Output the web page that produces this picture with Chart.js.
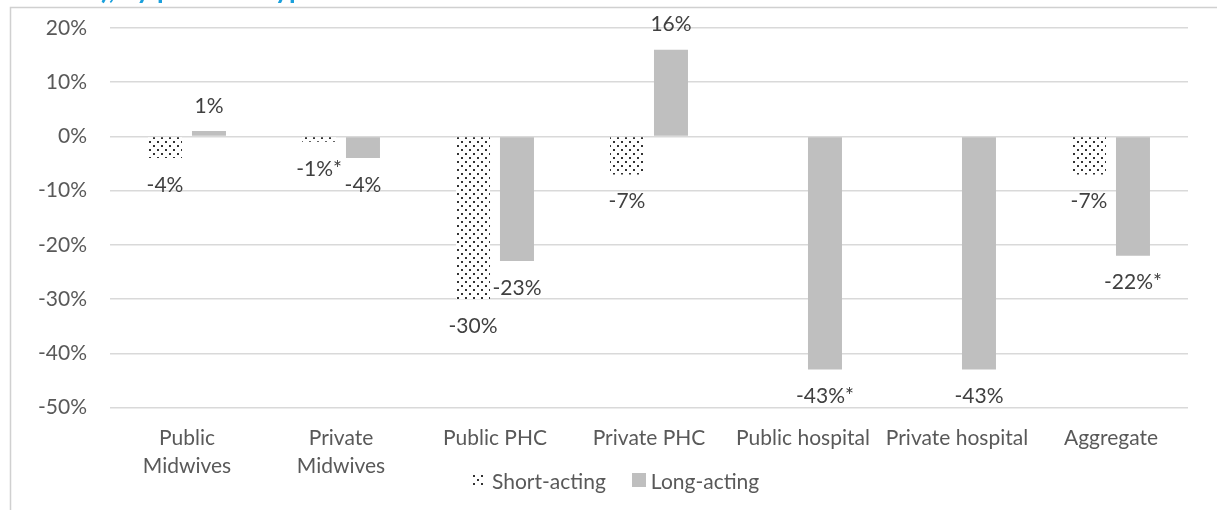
<!DOCTYPE html>
<html>
<head>
<meta charset="utf-8">
<script src="https://cdn.jsdelivr.net/npm/chart.js@4.4.1/dist/chart.umd.min.js"></script>
<style>
  html, body { margin: 0; padding: 0; background: #fff; }
  #wrap { position: relative; width: 1217px; height: 510px; }
  #legenda { position: absolute; left: 472px; top: 467px; height: 26px; display: flex; align-items: center;
             font-family: Lato, sans-serif; font-size: 21px; color: #595959; white-space: nowrap; }
  #legenda .item { display: flex; align-items: center; }
  #legenda canvas, #legenda .caixa { width: 13px; height: 13px; margin-right: 7px; }
  #legenda .caixa { background: #bfbfbf; width: 14px; height: 14px; margin-right: 5px; }
</style>
</head>
<body>
<div id="wrap">
  <canvas id="grafico" width="1217" height="510"></canvas>
  <div id="legenda"></div>
</div>
<script>
// dados
const categorias = [["Public", "Midwives"], ["Private", "Midwives"], "Public PHC", "Private PHC", "Public hospital", "Private hospital", "Aggregate"];
const series = ["Short-acting", "Long-acting"];
const shortActing = [-4, -1, -30, -7, null, null, -7];
const longActing = [1, -4, -23, 16, -43, -43, -22];
const rotulosShort = ["-4%", "-1%*", "-30%", "-7%", "", "", "-7%"];
const rotulosLong = ["1%", "-4%", "-23%", "16%", "-43%*", "-43%", "-22%*"];
const yMin = -50, yMax = 20, yPasso = 10;
const tituloCortado = "), by provider type";

// padrão pontilhado (tipo "20%" do Excel)
function criarPadrao(ctxDestino) {
    const c = document.createElement('canvas');
    c.width = 8; c.height = 8;
    const g = c.getContext('2d');
    g.fillStyle = '#fff';
    g.fillRect(0, 0, 8, 8);
    g.fillStyle = '#333';
    g.fillRect(1, 1, 2, 2);
    g.fillRect(5, 5, 2, 2);
    return ctxDestino.createPattern(c, 'repeat');
}

// moldura e título cortado no topo
const moldura = {
    id: 'moldura',
    beforeDraw(chart) {
        const ctx = chart.ctx;
        ctx.save();
        ctx.fillStyle = '#1ba0dc';
        ctx.font = 'bold 27px Lato';
        ctx.textBaseline = 'alphabetic';
        ctx.fillText(tituloCortado, 101, -1);
        ctx.strokeStyle = '#d0d0d0';
        ctx.lineWidth = 1.5;
        ctx.beginPath();
        ctx.moveTo(10.5, 510);
        ctx.lineTo(10.5, 7.5);
        ctx.lineTo(1217, 7.5);
        ctx.stroke();
        ctx.restore();
    }
};

// rótulos de dados fora da ponta da barra
const rotulos = {
    id: 'rotulos',
    afterDatasetsDraw(chart) {
        const ctx = chart.ctx;
        const textos = [rotulosShort, rotulosLong];
        ctx.save();
        ctx.fillStyle = '#404040';
        ctx.font = '21px Lato';
        ctx.textAlign = 'center';
        ctx.textBaseline = 'middle';
        chart.data.datasets.forEach((ds, d) => {
            const meta = chart.getDatasetMeta(d);
            meta.data.forEach((bar, i) => {
                const v = ds.data[i];
                if (v === null || !textos[d][i]) return;
                const y = v < 0 ? bar.y + 27 : bar.y - 25;
                ctx.fillText(textos[d][i], bar.x, y);
            });
        });
        ctx.restore();
    }
};

Chart.defaults.font.family = 'Lato';
Chart.defaults.font.size = 21;
Chart.defaults.color = '#595959';

const ctx = document.getElementById('grafico').getContext('2d');
const padrao = criarPadrao(ctx);

new Chart(ctx, {
    type: 'bar',
    data: {
        labels: categorias,
        datasets: [{
            label: series[0],
            data: shortActing,
            backgroundColor: padrao,
            borderWidth: 0,
            categoryPercentage: 0.571,
            barPercentage: 0.773
        }, {
            label: series[1],
            data: longActing,
            backgroundColor: '#bfbfbf',
            borderWidth: 0,
            categoryPercentage: 0.571,
            barPercentage: 0.773
        }]
    },
    options: {
        responsive: false,
        animation: false,
        layout: { padding: { left: 0, right: 29, top: 28, bottom: 0 } },
        plugins: {
            legend: { display: false },
            tooltip: { enabled: false }
        },
        scales: {
            x: {
                grid: { display: false, drawTicks: false },
                border: { display: false },
                ticks: { padding: 16, maxRotation: 0, autoSkip: false, font: { lineHeight: 1.36 } },
                afterFit(scale) { scale.height = 102.5; }
            },
            y: {
                min: yMin,
                max: yMax,
                grid: { color: '#d9d9d9', lineWidth: 1.5, drawTicks: false },
                border: { display: false },
                ticks: {
                    stepSize: yPasso,
                    padding: 23,
                    callback: v => v + '%'
                },
                afterFit(scale) {
                    scale.width = 110;
                    scale.paddingTop = 0;
                    scale.paddingBottom = 0;
                }
            }
        }
    },
    plugins: [moldura, rotulos]
});

// legenda em HTML (posição igual à do Excel)
const legenda = document.getElementById('legenda');
series.forEach((nome, i) => {
    const item = document.createElement('div');
    item.className = 'item';
    item.style.marginRight = i === 0 ? '26px' : '0';
    if (i === 0) {
        const sw = document.createElement('canvas');
        sw.width = 13; sw.height = 13;
        const g = sw.getContext('2d');
        g.fillStyle = criarPadrao(g);
        g.fillRect(0, 0, 13, 13);
        item.appendChild(sw);
    } else {
        const cx = document.createElement('span');
        cx.className = 'caixa';
        item.appendChild(cx);
    }
    const txt = document.createElement('span');
    txt.textContent = nome;
    item.appendChild(txt);
    legenda.appendChild(item);
});
</script>
</body>
</html>
